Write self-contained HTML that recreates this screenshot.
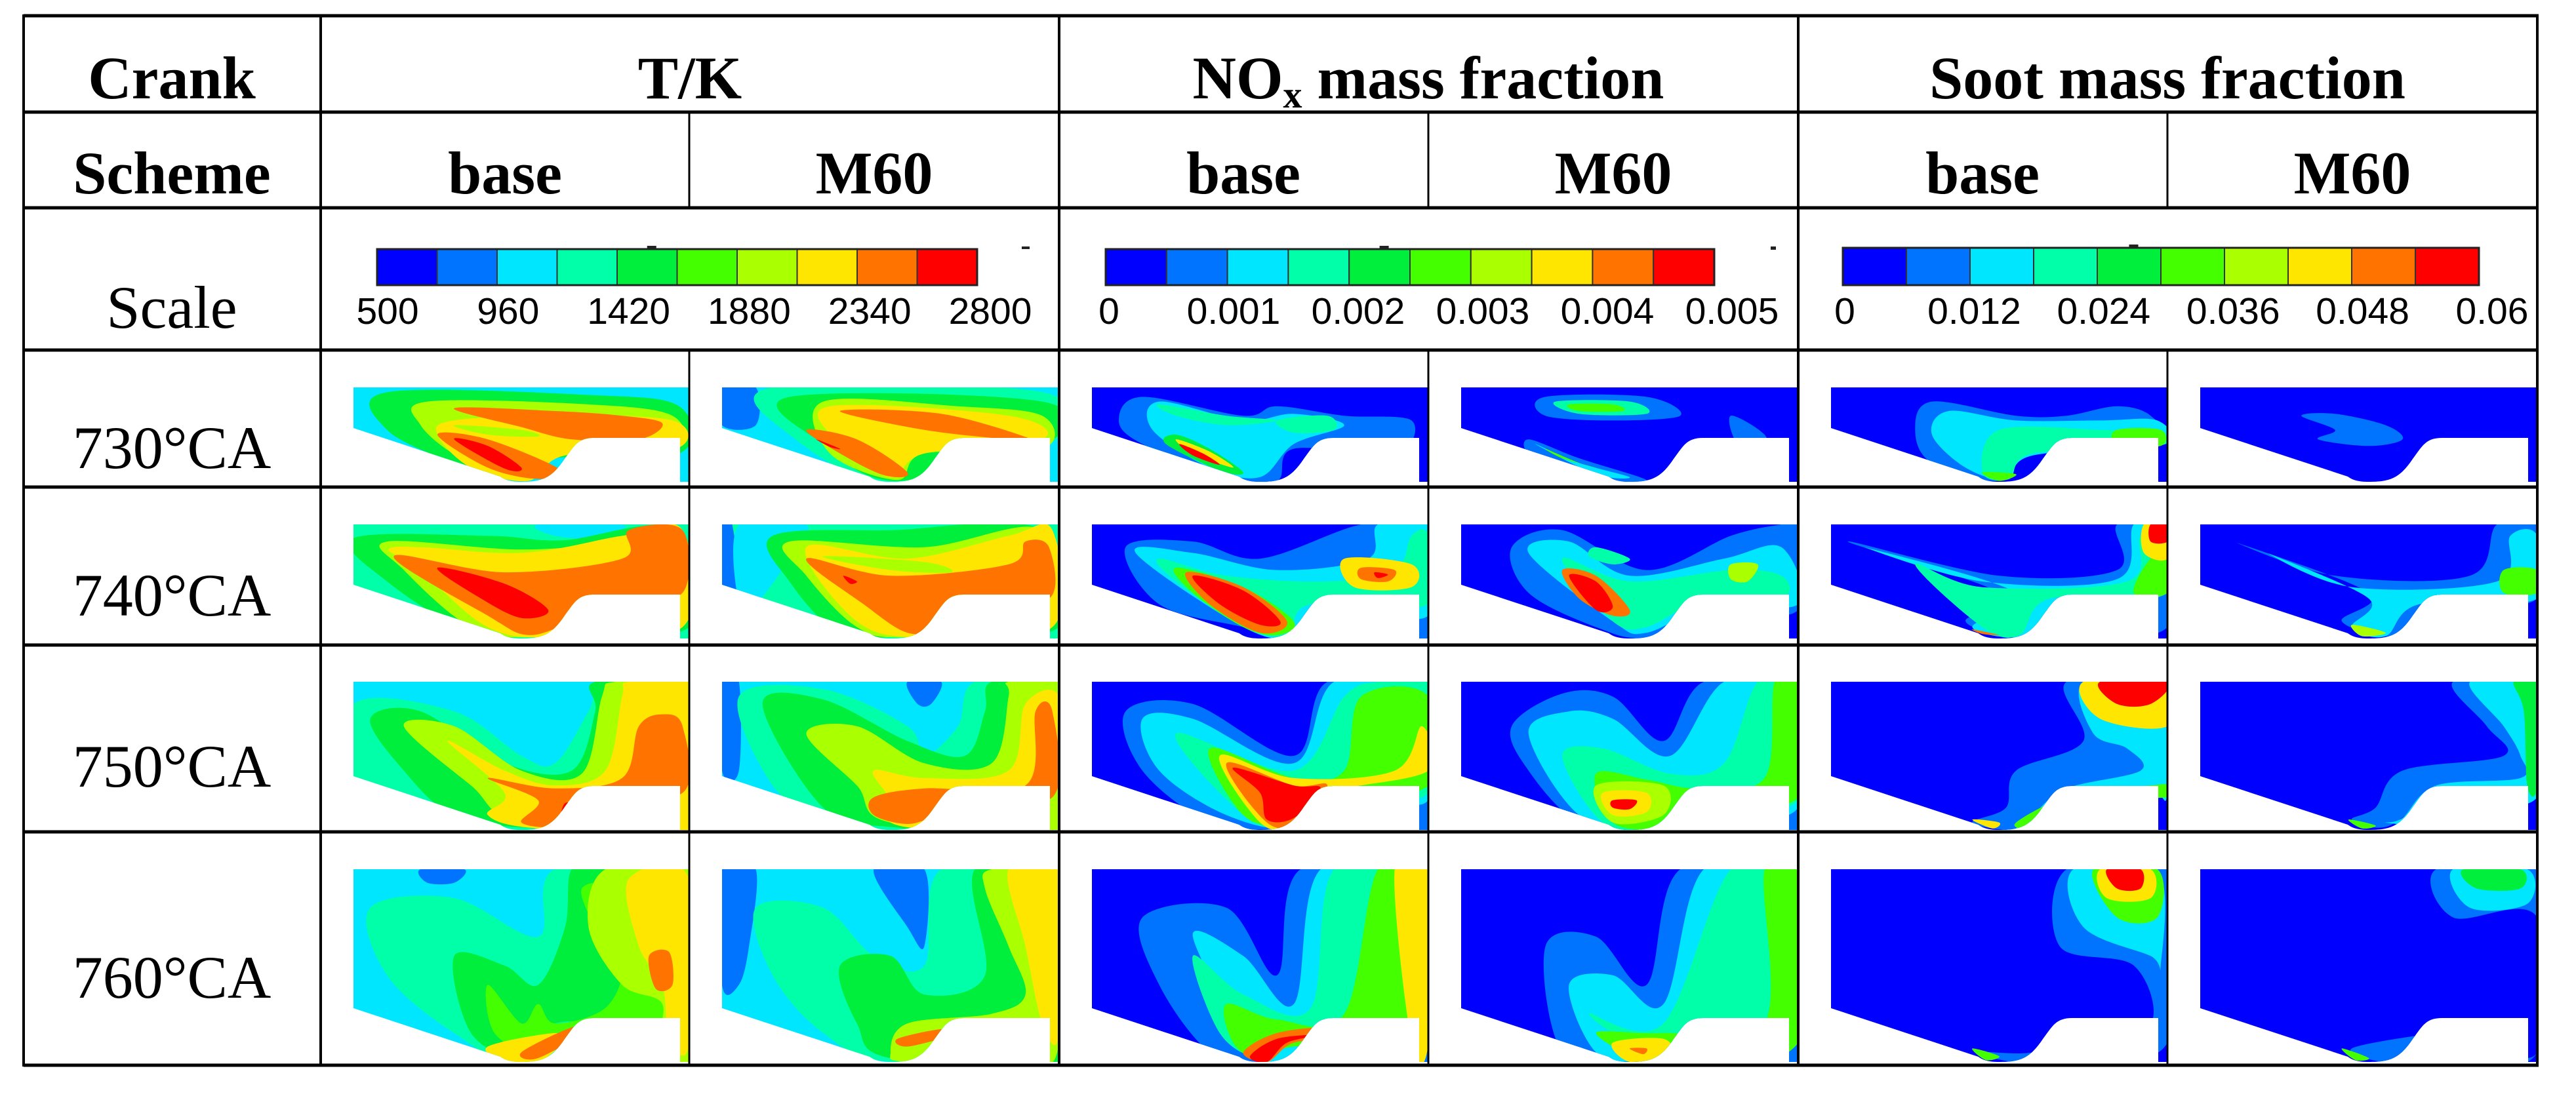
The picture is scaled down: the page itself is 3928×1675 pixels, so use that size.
<!DOCTYPE html>
<html><head><meta charset="utf-8"><style>
html,body{margin:0;padding:0;background:#fff}
svg{display:block}
</style></head><body>
<svg id="fig" width="3928" height="1675" viewBox="0 0 3928 1675" xmlns="http://www.w3.org/2000/svg">
<rect width="3928" height="1675" fill="#fff"/>
<g id="panels"></g>
<g id="bars"></g>
<g id="grid" fill="#000"></g>
<g font-family="'Liberation Serif', serif" font-size="92" text-anchor="middle" fill="#000">
<text x="262" y="150" font-weight="bold">Crank</text>
<text x="1052" y="150" font-weight="bold">T/K</text>
<text x="2178" y="150" font-weight="bold">NO<tspan font-size="58" dy="14">x</tspan><tspan dy="-14"> mass fraction</tspan></text>
<text x="3305" y="150" font-weight="bold">Soot mass fraction</text>
<text x="262" y="295" font-weight="bold">Scheme</text>
<text x="770" y="295" font-weight="bold">base</text>
<text x="1333" y="295" font-weight="bold">M60</text>
<text x="1896" y="295" font-weight="bold">base</text>
<text x="2460" y="295" font-weight="bold">M60</text>
<text x="3023" y="295" font-weight="bold">base</text>
<text x="3587" y="295" font-weight="bold">M60</text>
<text x="262" y="500">Scale</text>
<text x="262" y="714">730°CA</text>
<text x="262" y="939">740°CA</text>
<text x="262" y="1200">750°CA</text>
<text x="262" y="1522">760°CA</text>
</g>
</svg>
<script>
const NS='http://www.w3.org/2000/svg';
const palette=['#0000ff','#0073ff','#00e6ff','#00ffa8','#00ee3c','#44ff00','#aaff00','#ffe600','#ff7300','#ff0000'];
// colorbar tick labels
const tkTicks=['500','960','1420','1880','2340','2800'];
const noxTicks=['0','0.001','0.002','0.003','0.004','0.005'];
const sootTicks=['0','0.012','0.024','0.036','0.048','0.06'];
const rowNames=['730','740','750','760'];
const colNames=['tk-base','tk-m60','nox-base','nox-m60','soot-base','soot-m60'];
// contour field descriptions: [background level, [level, u,v, u,v ...] ...]
const tkBase=[
 [2,[4,.1,.05,.7,.08,.97,.2,.97,.7,.6,.75,.5,.99,.3,.8,.1,.45],[6,.22,.15,.7,.18,.95,.3,.95,.65,.62,.72,.5,.98,.32,.75,.2,.4],[7,.3,.35,.6,.3,.95,.35,.96,.65,.63,.72,.52,.99,.35,.85,.25,.5],[8,.3,.22,.6,.25,.8,.3,.92,.38,.85,.55,.65,.55,.5,.42],[6,.3,.4,.5,.45,.55,.52,.4,.5],[8,.25,.5,.4,.55,.62,.88,.55,.97,.4,.85],[9,.3,.55,.4,.62,.5,.85,.45,.86]],
 [3,[2,.55,0,.8,0,.75,.12,.6,.1],[4,0,.12,.4,.1,.62,.14,.95,.05,1,.9,.55,.98,.35,.95,.1,.5],[6,.1,.15,.5,.22,.8,.15,.95,.05,.95,.9,.55,.99,.35,.9,.15,.4],[7,.12,.2,.5,.25,.8,.1,.98,.05,.98,.9,.6,.99,.4,.9,.2,.4],[8,.12,.28,.45,.42,.8,.3,.82,.05,.98,.05,.98,.6,.8,.65,.65,.85,.52,.97,.4,.8],[7,.2,.2,.55,.3,.65,.38,.4,.32],[9,.25,.38,.45,.52,.58,.75,.5,.82,.38,.65]],
 [2,[3,0,.15,.3,.2,.5,.5,.6,.55,.7,.2,.75,0,1,0,1,1,.5,1,.35,.95,0,.75],[4,.05,.25,.2,.2,.45,.55,.65,.6,.72,.2,.72,0,1,0,1,1,.55,.99,.3,.9,.15,.6],[6,.15,.3,.3,.3,.5,.6,.68,.62,.74,.1,.78,0,1,0,1,1,.5,.95,.35,.7],[7,.28,.4,.45,.6,.6,.7,.75,.6,.8,.1,.82,0,1,0,1,1,.55,.99,.4,.9,.45,.75],[8,.4,.65,.6,.72,.8,.65,.85,.3,.92,.22,.98,.3,.98,.75,.7,.8,.62,.97,.5,.95,.55,.8],[9,.63,.82,.66,.83,.65,.92,.62,.9]],
 [2,[1,.2,0,.33,0,.3,.07,.22,.07],[3,.05,.2,.3,.15,.55,.35,.6,0,1,0,1,1,.5,1,.3,.85,.1,.55],[4,.3,.45,.45,.5,.55,.6,.63,.3,.65,0,.75,0,.85,.3,.9,.5,.85,.75,.6,.8,.58,.9,.5,.99,.35,.85],[5,.4,.6,.5,.8,.55,.7,.6,.8,.75,.72,.8,.5,.72,.3,.68,.1,.78,.1,.85,.4,.95,.6,.95,.85,.6,.85,.55,.97,.42,.85],[6,.75,0,1,0,1,1,.9,.95,.92,.7,.8,.6,.7,.3],[7,.82,.05,1,.05,1,.9,.94,.88,.92,.6,.85,.4],[8,.88,.45,.94,.43,.95,.6,.9,.62],[7,.4,.92,.6,.85,.62,.9,.55,1,.45,1],[8,.5,.95,.65,.82,.7,.83,.55,.98]]
];
const tkM60=[
 [2,[1,0,0,.1,0,.1,.4,0,.4],[3,.15,0,.95,.05,.97,.6,.5,1,.2,.5],[4,.2,.1,.95,.15,.96,.6,.52,.99,.3,.6],[6,.3,.15,.7,.2,.95,.3,.95,.65,.6,.7,.52,.98,.32,.7],[7,.32,.2,.85,.3,.95,.55,.6,.7,.5,.95,.35,.6],[8,.35,.25,.65,.28,.92,.55,.85,.55,.6,.45],[8,.25,.45,.4,.55,.55,.9,.48,.93,.35,.7],[9,.28,.55,.35,.65,.32,.63]],
 [3,[1,0,0,.03,0,.05,.6,0,.6],[2,.05,0,.25,0,.2,.3,.1,.7,.05,.7],[4,.15,.1,.5,.05,.95,.05,1,.9,.55,.98,.35,.95,.2,.5],[6,.2,.15,.6,.2,.95,.05,.95,.9,.55,.99,.4,.9,.25,.45],[7,.25,.2,.55,.3,.85,.1,.98,.05,.98,.9,.6,.99,.4,.85],[8,.25,.3,.5,.45,.85,.35,.9,.15,.97,.2,.97,.65,.75,.65,.65,.9,.55,.95,.42,.7],[6,.3,.28,.6,.33,.68,.42,.5,.4],[9,.36,.45,.4,.5,.38,.52]],
 [2,[1,0,0,.05,0,.05,.6,0,.6],[3,.05,.1,.3,.05,.55,.3,.6,.5,.7,.3,.75,0,1,0,1,1,.5,1,.3,.9,.15,.7],[1,.55,0,.65,0,.62,.15,.58,.15],[4,.12,.15,.3,.12,.55,.4,.72,.5,.78,.2,.8,0,1,0,1,1,.5,.98,.3,.85],[6,.25,.35,.4,.3,.6,.55,.8,.55,.85,.1,.85,0,1,0,1,1,.5,.95,.4,.7],[7,.45,.6,.6,.65,.85,.6,.9,.15,1,.1,1,.7,.7,.75,.62,.97,.5,.95,.5,.8],[8,.45,.78,.6,.72,.9,.7,.93,.2,.98,.2,.98,.78,.7,.78,.63,.9,.55,.96,.45,.9]],
 [2,[1,0,0,.1,0,.08,.4,.05,.6,0,.6],[3,.1,.2,.3,.2,.45,.45,.6,.5,.65,0,1,0,1,1,.5,1,.3,.85,.15,.55],[1,.45,0,.6,0,.6,.4,.55,.3],[4,.35,.5,.5,.45,.6,.65,.78,.55,.75,0,1,0,1,1,.5,.98,.4,.8],[6,.78,.1,.85,.4,.9,.65,.8,.75,.55,.8,.5,.95,.55,1,.9,1,1,.9,1,0,.8,0],[7,.85,0,1,0,1,.85,.95,.8,.9,.4],[8,.52,.88,.65,.83,.68,.86,.55,.92]]
];
const noxBase=[
 [0,[1,.15,.1,.45,.3,.55,.2,.75,.3,.95,.35,.9,.7,.6,.65,.55,.99,.4,.95,.15,.6,.08,.35],[2,.2,.15,.45,.35,.6,.28,.75,.4,.6,.6,.5,.95,.35,.85,.18,.45],[3,.2,.18,.4,.3,.55,.35,.4,.4,.25,.3],[3,.55,.35,.7,.3,.72,.45,.6,.48],[4,.25,.5,.35,.65,.45,.9,.38,.88,.22,.6],[7,.25,.55,.35,.68,.42,.85,.3,.7],[9,.26,.6,.33,.7,.38,.82,.3,.72]],
 [0,[1,.1,.2,.3,.15,.5,.3,.8,0,1,0,1,1,.6,1,.45,.9,.2,.7],[2,.13,.25,.3,.25,.55,.4,.82,.3,.85,0,1,0,1,.8,.7,.7,.6,.98,.45,.9],[3,.2,.3,.4,.45,.7,.5,.9,.4,.95,.1,1,.1,1,.7,.65,.7,.58,.97,.45,.9,.25,.5],[5,.25,.38,.45,.55,.6,.85,.55,.97,.45,.9,.3,.6],[8,.28,.42,.45,.55,.58,.85,.5,.95,.35,.7],[9,.3,.45,.45,.58,.56,.85,.5,.88,.38,.7],[7,.75,.3,.95,.35,.95,.55,.78,.55],[8,.8,.38,.9,.4,.88,.5,.8,.48],[9,.84,.42,.88,.44,.85,.47]],
 [0,[1,.1,.2,.3,.15,.6,.5,.7,0,1,0,1,1,.55,1,.35,.95,.15,.6],[2,.15,.25,.3,.25,.6,.55,.72,0,1,0,1,.8,.75,.7,.6,.98,.4,.9,.2,.6],[3,.25,.35,.6,.6,.75,.1,.85,0,1,0,1,.75,.7,.75,.58,.97,.45,.9],[5,.35,.45,.6,.65,.75,.6,.8,.1,1,.1,1,.7,.7,.75,.58,.95,.45,.9],[7,.38,.5,.6,.65,.9,.6,.98,.3,1,.6,.7,.75,.6,.97,.5,.95],[8,.4,.55,.6,.7,.7,.7,.62,.95,.52,.95],[9,.42,.58,.6,.7,.68,.72,.6,.92,.52,.93,.5,.75]],
 [0,[1,.15,.25,.4,.2,.55,.55,.62,0,1,0,1,1,.5,1,.35,.95,.2,.6],[2,.3,.35,.45,.45,.6,.7,.68,0,1,0,1,.8,.75,.85,.62,.97,.5,.99],[3,.3,.45,.45,.65,.65,.72,.72,0,1,0,1,.9,.6,.9,.5,.98,.38,.85],[5,.4,.7,.55,.78,.75,.75,.85,0,1,0,1,.88,.6,.92,.5,.99,.42,.9],[7,.9,0,1,0,1,.9,.95,.9],[8,.45,.95,.55,.85,.72,.82,.75,.88,.6,.9,.52,1],[9,.47,.97,.55,.88,.68,.86,.58,.9,.52,1]]
];
const noxM60=[
 [0,[1,.25,.1,.55,.1,.65,.3,.45,.35,.25,.3],[3,.28,.15,.5,.15,.55,.28,.35,.28],[5,.32,.18,.45,.18,.48,.25,.35,.25],[1,.8,.3,.9,.5,.9,.7,.82,.6],[1,.2,.55,.35,.75,.55,.98,.45,.98,.22,.75],[2,.22,.6,.35,.8,.5,.95,.4,.92],[5,.25,.65,.35,.8,.4,.85,.3,.75]],
 [0,[1,.15,.2,.3,.05,.55,.4,.8,.1,.95,0,1,0,1,.75,.75,.75,.55,.99,.4,.9,.2,.6],[2,.2,.25,.32,.15,.5,.45,.78,.3,.95,.2,1,.7,.75,.7,.55,.95,.45,.85],[3,.3,.3,.5,.5,.8,.4,.95,.45,.95,.65,.7,.7,.55,.9,.45,.85],[3,.4,.2,.5,.3,.45,.35,.38,.28],[6,.8,.35,.88,.35,.85,.5,.8,.48],[8,.3,.4,.4,.45,.5,.75,.45,.8,.35,.65],[9,.32,.45,.4,.5,.45,.72,.4,.75]],
 [0,[1,.15,.3,.3,.08,.45,.1,.6,.4,.72,0,1,0,1,1,.55,1,.35,.95,.2,.6],[2,.2,.35,.32,.2,.45,.25,.62,.5,.78,0,1,0,1,.85,.7,.9,.55,.98,.35,.9],[3,.3,.5,.42,.45,.62,.62,.78,.55,.88,0,1,0,1,.8,.7,.82,.58,.98,.42,.95],[5,.4,.62,.55,.66,.7,.72,.9,.65,.93,0,1,0,1,.78,.7,.8,.6,.98,.45,.95],[6,.4,.7,.6,.7,.6,.9,.45,.95],[7,.42,.75,.55,.75,.55,.88,.45,.9],[9,.45,.8,.52,.8,.5,.86,.45,.85]],
 [0,[1,.25,.4,.4,.35,.55,.6,.65,0,1,0,1,1,.5,1,.3,.95],[2,.32,.6,.45,.55,.6,.7,.72,0,1,0,1,.85,.7,.9,.55,.99,.4,.95],[3,.38,.75,.6,.8,.8,0,1,0,1,.88,.6,.95],[5,.4,.85,.6,.85,.9,.8,.9,0,1,0,1,.9,.6,1],[7,.45,.9,.6,.88,.62,.97,.5,1],[8,.5,.93,.55,.93,.54,.96]]
];
const sootBase=[
 [0,[1,.3,.15,.55,.3,.7,.3,.85,.2,.95,.3,.98,.6,.6,.7,.5,.99,.3,.8,.25,.45],[2,.35,.25,.55,.35,.8,.35,.97,.35,.98,.6,.6,.72,.52,.97,.4,.85,.3,.5],[3,.5,.45,.8,.45,.97,.5,.97,.62,.6,.7,.53,.97,.45,.9],[5,.85,.45,.98,.45,.98,.62,.85,.6],[5,.45,.9,.55,.92,.5,.99]],
 [0,[1,.05,.15,.5,.45,.85,.4,.85,0,1,0,1,.9,.7,.95,.55,.99,.4,.85,.5,.6],[2,.1,.2,.45,.5,.85,.48,.9,0,1,0,1,.6,.7,.7,.58,.98,.42,.9,.55,.6],[3,.25,.35,.45,.55,.88,.5,.92,.1,1,.1,1,.6,.65,.65,.56,.97,.45,.9],[5,.95,.3,1,.3,1,.6,.9,.6],[7,.93,0,1,0,1,.3,.93,.25],[9,.95,0,1,0,1,.15,.95,.15],[8,.42,.92,.5,.97,.45,.96]],
 [0,[1,.7,0,.75,.4,.55,.6,.52,.85,.42,.95,.55,1,.65,.9,.7,.75,.9,.7,1,.7,1,0],[2,.75,0,.78,.35,.88,.45,.92,.6,.7,.72,.6,.9,.55,1,.65,.95,.72,.78,.95,.75,1,.75,1,0],[5,.72,.76,.95,.7,1,.7,1,.78,.7,.8,.6,.98,.55,.95],[7,.75,0,1,0,1,.3,.8,.25],[9,.8,0,1,0,.95,.15,.85,.15],[7,.42,.93,.5,.95,.48,.99]],
 [0,[1,.7,0,.68,.4,.9,.5,.95,.8,.75,.85,.6,.95,.45,.95,.55,1,.7,.95,1,.9,1,0],[2,.72,0,.75,.3,.95,.45,.98,.5,.97,0],[5,.78,0,.85,.25,.97,.25,.97,0],[7,.8,0,.82,.15,.95,.15,.95,0],[9,.82,0,.85,.1,.92,.1,.92,0],[5,.42,.93,.5,.97,.46,.99]]
];
const sootM60=[
 [0,[1,.3,.3,.4,.28,.55,.4,.6,.55,.5,.62,.35,.55,.4,.45]],
 [0,[1,.1,.15,.4,.45,.8,.45,.88,0,1,0,1,.65,.7,.75,.58,.98,.42,.85,.5,.6],[2,.2,.25,.45,.55,.88,.5,.92,.1,1,.1,1,.65,.65,.7,.55,.98,.45,.9,.5,.65],[5,.9,.4,1,.4,1,.6,.9,.6],[6,.45,.88,.55,.95,.48,.98]],
 [0,[1,.75,0,.85,.3,.9,.5,.6,.6,.52,.85,.45,.93,.55,.98,.7,.8,1,.75,1,0],[2,.8,0,.9,.3,.95,.5,.95,.65,.7,.7,.6,.92,.55,.95,.65,.95,.72,.8,1,.78,1,0],[4,.93,0,1,0,1,.7,.97,.7,.96,.2],[5,.44,.93,.52,.97,.48,.99]],
 [0,[1,.7,0,.75,.25,1,.25,1,.95,.8,.85,.7,.85,.45,.93,.55,1,.7,.95,1,.95,1,0],[2,.75,0,.8,.2,.97,.18,.97,0],[4,.78,0,.82,.1,.95,.1,.95,0],[5,.42,.93,.5,.98,.46,.99]]
];
const fields=[tkBase,tkM60,noxBase,noxM60,sootBase,sootM60];

const colL=[489,1051,1615,2178,2742,3305,3869];
const rowTop=[591,800,1040,1326], rowH=[144,174,226,294];

function el(t,a,p){const e=document.createElementNS(NS,t);for(const k in a)e.setAttribute(k,a[k]);if(p)p.appendChild(e);return e;}
function domain(W,H){
 return `M0,0 L${W},0 L${W},${H} L${W-14},${H} L${W-14},${H-67} L${W-145},${H-67} C${W-170},${H-67} ${W-175},${H-55} ${W-190},${H-35} C${W-210},${H-5} ${W-225},${H} ${W*0.5},${H} C${W*0.5-17},${H} ${W*0.5-25},${H-3} ${W*0.5-32},${H-8} L0,${H-82} Z`;
}
function smooth(pts,W,H){
 const p=[];for(let i=0;i<pts.length;i+=2)p.push([pts[i]*W,pts[i+1]*H]);
 const n=p.length;let d=`M${p[0][0].toFixed(1)},${p[0][1].toFixed(1)}`;
 for(let i=0;i<n;i++){const a=p[(i-1+n)%n],b=p[i],c=p[(i+1)%n],e=p[(i+2)%n];
  d+=` C${(b[0]+(c[0]-a[0])/6).toFixed(1)},${(b[1]+(c[1]-a[1])/6).toFixed(1)} ${(c[0]-(e[0]-b[0])/6).toFixed(1)},${(c[1]-(e[1]-b[1])/6).toFixed(1)} ${c[0].toFixed(1)},${c[1].toFixed(1)}`;}
 return d+'Z';
}
const panels=document.getElementById('panels');
const defs=el('defs',{},panels);
for(let c=0;c<6;c++)for(let r=0;r<4;r++){
 const x=colL[c]+50,W=colL[c+1]-x,H=rowH[r],y=rowTop[r];
 const id='clip'+c+'_'+r;
 const cp=el('clipPath',{id:id},defs);el('path',{d:domain(W,H)},cp);
 const g=el('g',{transform:`translate(${x},${y})`,'clip-path':`url(#${id})`},panels);
 
 
 const f=fields[c][r];
 el('rect',{x:0,y:0,width:W,height:H,fill:palette[f[0]]},g);
 for(let k=1;k<f.length;k++){const b=f[k];el('path',{d:smooth(b.slice(1),W,H),fill:palette[b[0]]},g);}
}
// colorbars
const bars=document.getElementById('bars');
function colorbar(name,x0,x1,y0,y1,ticks,t0,t1){
 const g=el('g',{},bars);
 
 
 const w=(x1-x0)/palette.length;
 palette.forEach((col,i)=>{el('rect',{x:x0+i*w,y:y0,width:w,height:y1-y0,fill:col,stroke:'#333','stroke-width':2},g);});
 el('rect',{x:x0,y:y0,width:x1-x0,height:y1-y0,fill:'none',stroke:'#222','stroke-width':3},g);
 el('rect',{x:x0+(x1-x0)*0.45,y:y0-5,width:14,height:4,fill:'#222'},g);
 ticks.forEach((t,i)=>{const tx=el('text',{x:t0+(t1-t0)*i/(ticks.length-1),y:y1+59,'font-family':"'Liberation Sans', sans-serif",'font-size':57,'text-anchor':'middle',fill:'#000'},g);tx.textContent=t;
  
  });
}
colorbar('tk-colorbar',575,1490,380,435,tkTicks,591,1510);
el('rect',{x:1558,y:376,width:12,height:4,fill:'#222'},bars);
colorbar('nox-colorbar',1686,2614,380,435,noxTicks,1691,2641);
el('rect',{x:2700,y:376,width:8,height:5,fill:'#222'},bars);
colorbar('soot-colorbar',2810,3780,378,435,sootTicks,2813,3800);
// table grid
const grid=document.getElementById('grid');
const hy=[24,171,317,534,743,984,1269,1625];
hy.forEach((y)=>{const r=el('rect',{x:36,y:y-2.5,width:3869-36+2,height:5},grid);
 
 });
[36,489,1615,2742,3869].forEach(x=>{const r=el('rect',{x:x-2,y:22,width:4,height:1605},grid);
 
 });
[1051,2178,3305].forEach(x=>{
 [[171,317],[534,1625]].forEach(s=>{const r=el('rect',{x:x-1.5,y:s[0],width:3,height:s[1]-s[0]},grid);
 
 });
});
</script>
</body></html>
